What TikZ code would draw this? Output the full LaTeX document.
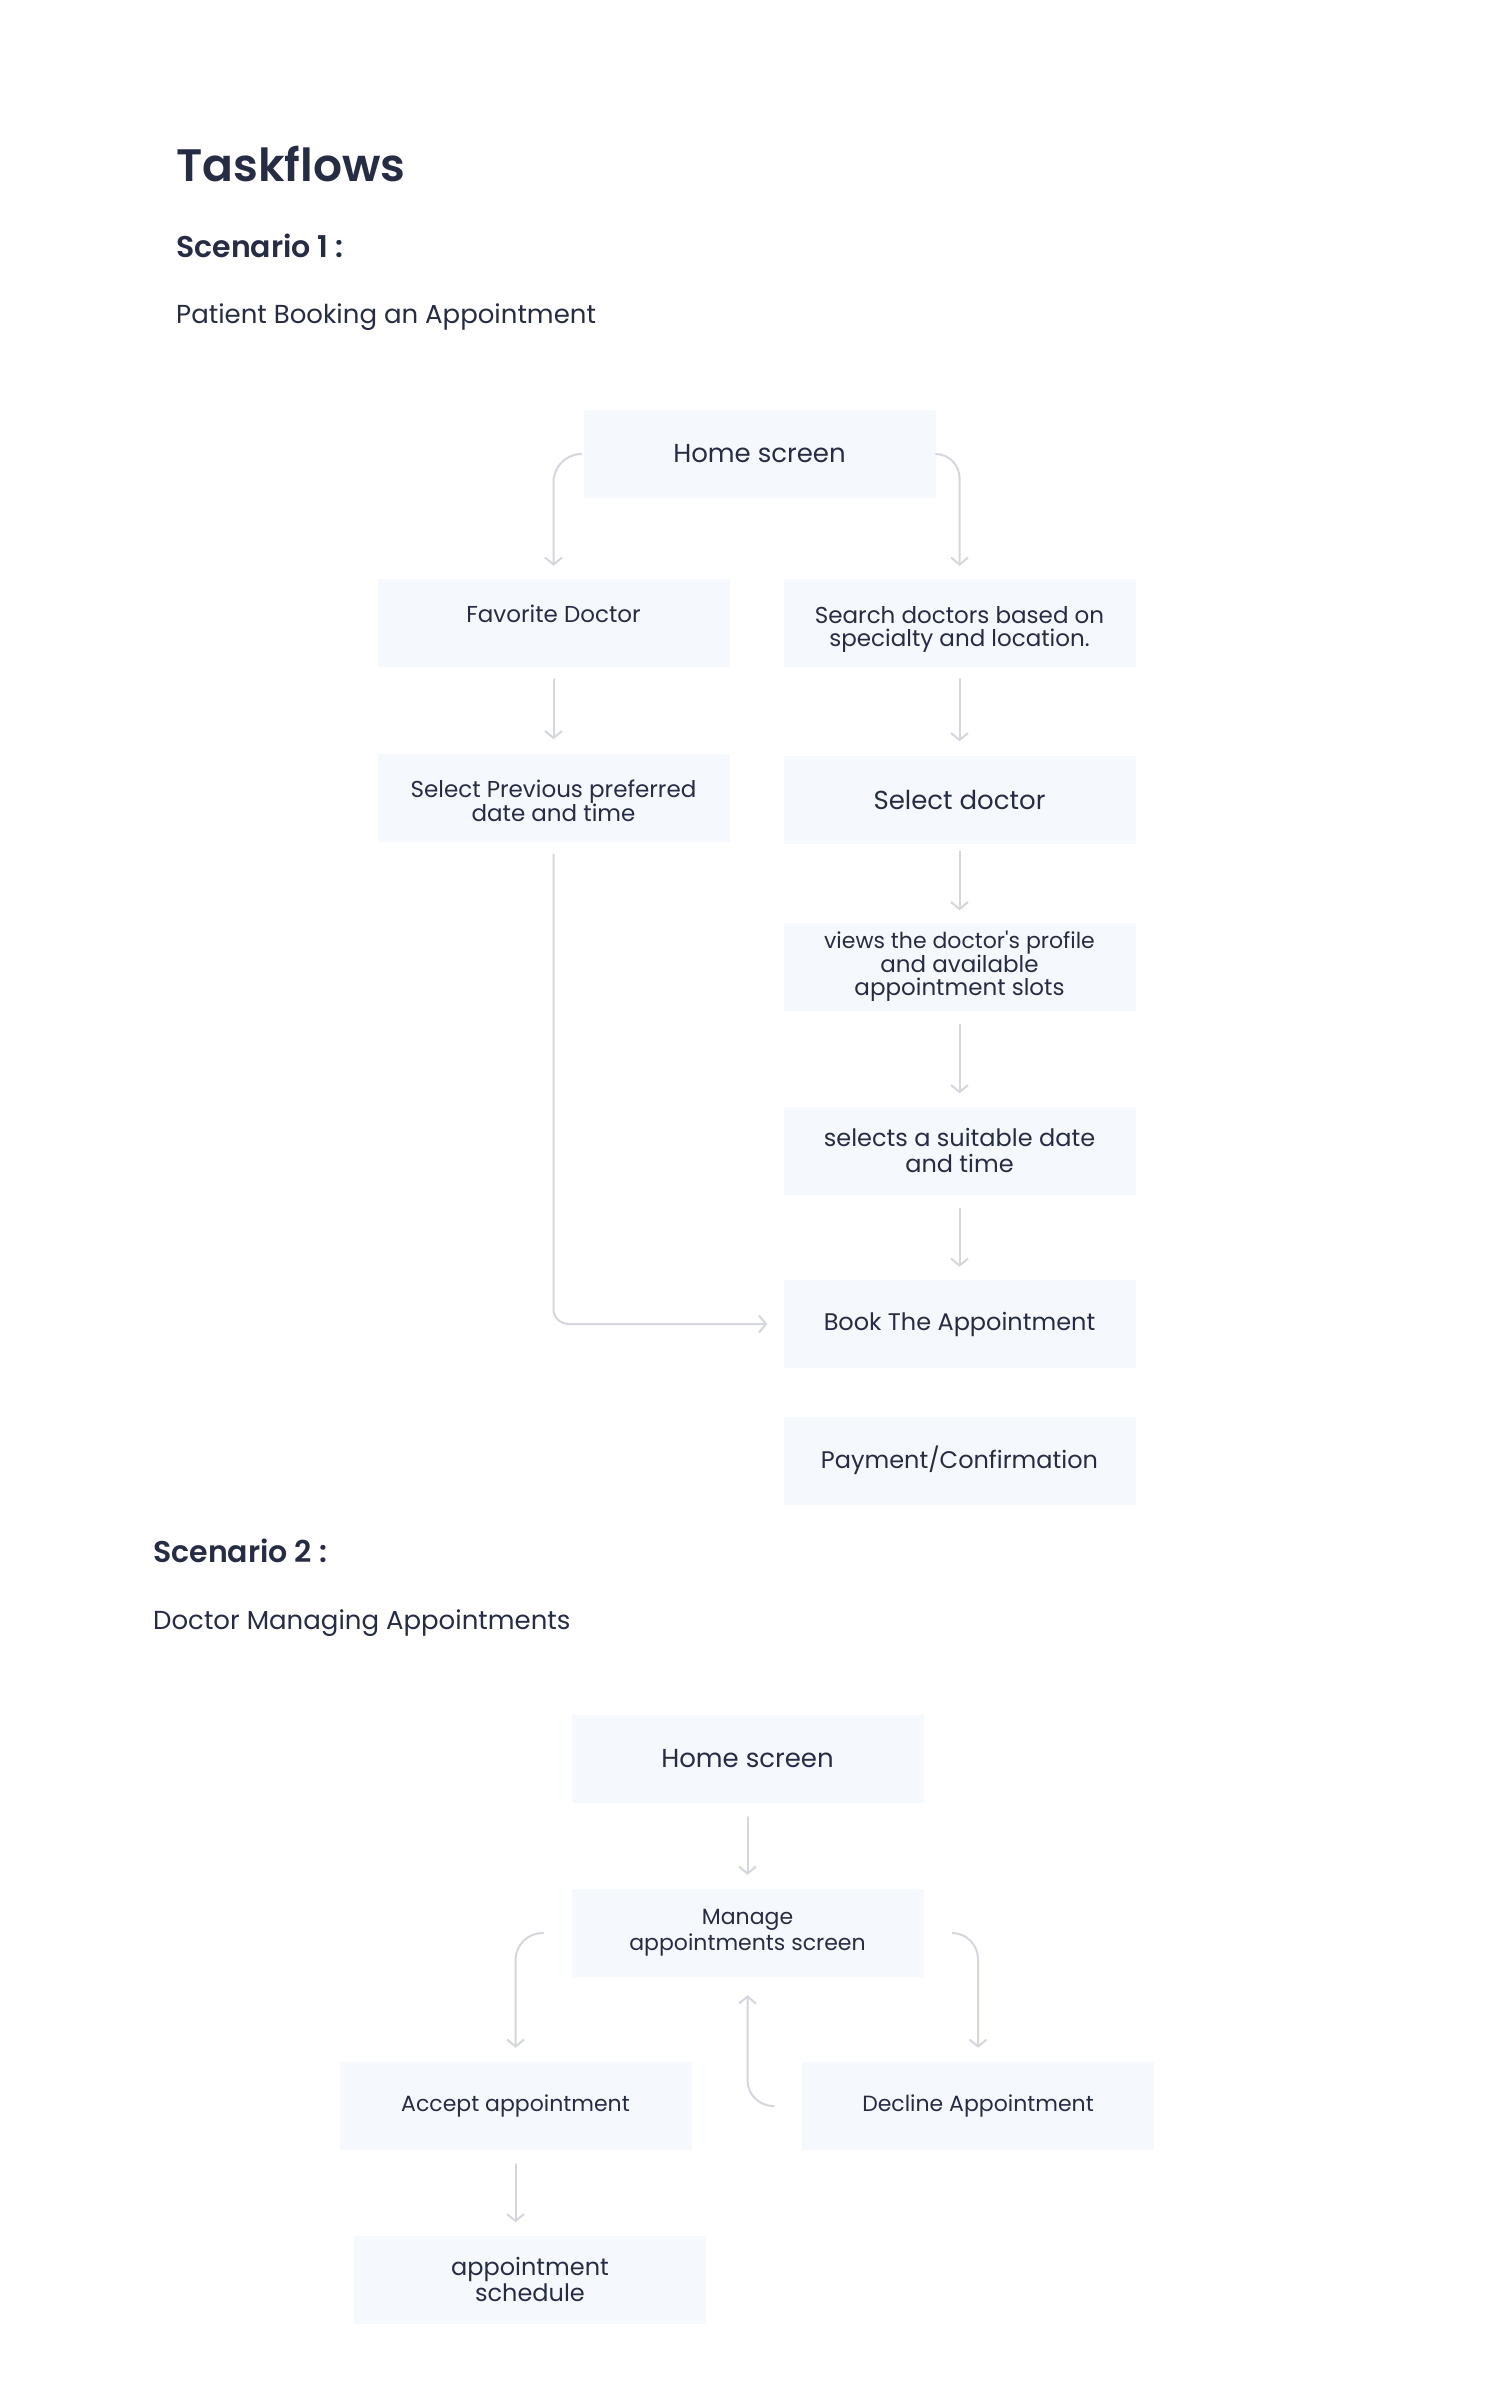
\documentclass[tikz,border=0pt]{standalone}
\usepackage{fontspec}
\setmainfont{Poppins}
\newfontfamily\semib{Poppins SemiBold}
\newfontfamily\plainpop{Poppins}
\usetikzlibrary{arrows.meta}
\definecolor{ink}{HTML}{272C45}
\definecolor{boxfill}{HTML}{F5F8FC}
\definecolor{linegray}{HTML}{D4D7DD}
\tikzset{
  box/.style={fill=boxfill, draw=none, minimum width=352pt, minimum height=88pt, inner sep=0pt, align=center, text=ink},
  txt/.style={inner sep=0pt, align=center, text=ink},
  fA/.style={font=\fontsize{26}{28}\selectfont},
  fB/.style={font=\fontsize{23}{23}\selectfont},
  fC/.style={font=\fontsize{24}{26.5}\selectfont},
  fD/.style={font=\fontsize{22}{26}\selectfont},
  arr/.style={draw=linegray, line width=2pt, line cap=round, -{Straight Barb[length=7pt,width=17pt,line width=2pt]}},
  heading/.style={anchor=base west, inner sep=0pt, text=ink},
}
\begin{document}
\begin{tikzpicture}[x=1pt,y=-1pt]
\useasboundingbox[fill=white] (0,0) rectangle (1512,2401);
% headings
\node[heading, font=\fontsize{45.5}{48}\selectfont\semib] (title) at (176,181) {Taskflows};
\node[heading, font=\fontsize{30}{32}\selectfont\semib] (sc1) at (176,257) {Scenario 1 :};
\node[heading, font=\fontsize{26}{28}\selectfont] (sc1sub) at (176,323) {Patient Booking an Appointment};
\node[heading, font=\fontsize{30}{32}\selectfont\semib] (sc2) at (153,1562) {Scenario 2 :};
\node[heading, font=\fontsize{26}{28}\selectfont] (sc2sub) at (153,1629) {Doctor Managing Appointments};
% scenario 1 boxes
\node[box,fA] (home) at (759.5,454) {Home screen};
\node[box] (fav) at (553.5,623) {};
\node[txt,fB,yshift=9pt] (favtext) at (fav) {Favorite Doctor};
\node[box] (search) at (959.5,623) {};
\node[txt,fB,yshift=-6pt] (searchtext) at (search) {Search doctors based on\\specialty and location.};
\node[box] (selprev) at (553.5,797.5) {};
\node[txt,fB,yshift=-3.5pt] (selprevtext) at (selprev) {Select Previous preferred\\date and time};
\node[box,fA] (seldoc) at (959.5,799.5) {Select doctor};
\node[box,fB] (views) at (959.5,966.5) {\fontsize{22}{21.5}\selectfont views the doctor{\plainpop '}s profile\\and available\\appointment slots};
\node[box,fC] (selects) at (959.5,1150.5) {selects a suitable date\\and time};
\node[box,fC] (book) at (959.5,1324) {Book The Appointment};
\node[box,fC] (pay) at (959.5,1460.5) {Payment/Confirmation};
% scenario 1 connectors
\draw[arr, rounded corners=28pt] ([xshift=-2pt]home.west) -| ([yshift=13pt]fav.north);
\draw[arr, rounded corners=24pt] (home.east) -| ([yshift=13pt]search.north);
\draw[arr] ([yshift=-12pt]fav.south) -- ([yshift=14pt]selprev.north);
\draw[arr] ([yshift=-12pt]search.south) -- ([yshift=14pt]seldoc.north);
\draw[arr] ([yshift=-8pt]seldoc.south) -- ([yshift=12pt]views.north);
\draw[arr] ([yshift=-14pt]views.south) -- ([yshift=13pt]selects.north);
\draw[arr] ([yshift=-14pt]selects.south) -- ([yshift=13pt]book.north);
\draw[arr, rounded corners=15pt] ([yshift=-13pt]selprev.south) |- ([xshift=-16pt]book.west);
% scenario 2 boxes
\node[box,fA] (home2) at (747.5,1759) {Home screen};
\node[box,fD] (manage) at (747.5,1933) {Manage\\appointments screen};
\node[box,fD] (accept) at (515.5,2106) {Accept appointment};
\node[box,fD] (decline) at (978,2106) {Decline Appointment};
\node[box,fC] (sched) at (530,2279.5) {appointment\\schedule};
% scenario 2 connectors
\draw[arr] ([yshift=-14pt]home2.south) -- ([yshift=14pt]manage.north);
\draw[arr, rounded corners=27pt] ([xshift=-28pt]manage.west) -| ([yshift=14pt]accept.north);
\draw[arr, rounded corners=26pt] ([xshift=29pt]manage.east) -| ([yshift=14pt]decline.north);
\draw[arr, rounded corners=26pt] ([xshift=-28pt]decline.west) -| ([yshift=-18pt]manage.south);
\draw[arr] ([yshift=-14pt]accept.south) -- ([yshift=13pt]accept.south |- sched.north);
\end{tikzpicture}
\end{document}
